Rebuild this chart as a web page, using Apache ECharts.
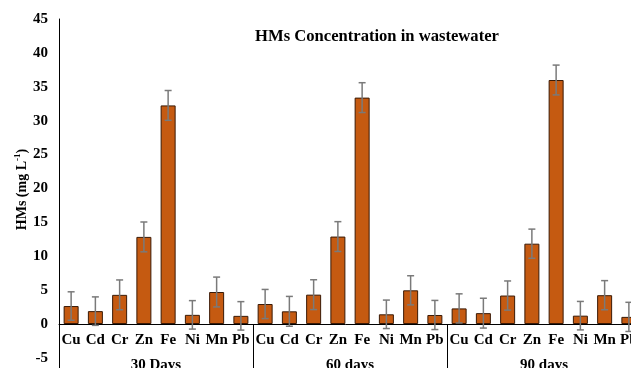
<!DOCTYPE html>
<html>
<head>
<meta charset="utf-8">
<script src="https://cdn.jsdelivr.net/npm/echarts@6/dist/echarts.min.js"></script>
<style>html,body{margin:0;padding:0;background:#fff}#c{width:631px;height:368px}</style>
</head>
<body>
<div id="c"></div>
<script>
var metals = ['Cu', 'Cd', 'Cr', 'Zn', 'Fe', 'Ni', 'Mn', 'Pb'];
var groups = ['30 Days', '60 days', '90 days'];
var days30 = [2.65, 1.9, 4.3, 12.85, 32.25, 1.35, 4.72, 1.2];
var days60 = [2.95, 1.87, 4.33, 12.9, 33.4, 1.43, 4.97, 1.33];
var days90 = [2.3, 1.6, 4.2, 11.85, 36.0, 1.23, 4.25, 1.05];
var err30 = [2.1, 2.1, 2.2, 2.2, 2.2, 2.1, 2.2, 2.1];
var err60 = [2.15, 2.2, 2.2, 2.2, 2.2, 2.1, 2.15, 2.15];
var err90 = [2.15, 2.2, 2.15, 2.15, 2.2, 2.1, 2.15, 2.15];
var yTicks = [-5, 0, 5, 10, 15, 20, 25, 30, 35, 40, 45];

var font = "'Liberation Serif', 'Times New Roman', serif";
var categories = [], values = [], errs = [];
[days30, days60, days90].forEach(function (arr, g) {
  var e = [err30, err60, err90][g];
  arr.forEach(function (v, i) {
    categories.push(metals[i]);
    values.push(v);
    errs.push(e[i]);
  });
});
var errData = values.map(function (v, i) { return [i, v - errs[i], v + errs[i]]; });
var lbl = { fontFamily: font, fontWeight: 'bold', fontSize: 15, color: '#000' };

var chart = echarts.init(document.getElementById('c'), null, { renderer: 'canvas' });
chart.setOption({
  animation: false,
  backgroundColor: '#fff',
  title: {
    text: 'HMs Concentration in wastewater',
    left: 372, top: 23, textAlign: 'center',
    textStyle: { fontFamily: font, fontWeight: 'bold', fontSize: 16.6, color: '#000' }
  },
  grid: [
    { left: 59, right: -10, top: 19, bottom: 44, outerBoundsMode: 'none', containLabel: false },
    { left: 59, right: -10, top: 324, bottom: -24, outerBoundsMode: 'none', containLabel: false }
  ],
  xAxis: [{
    type: 'category', data: categories, gridIndex: 0, position: 'bottom',
    axisLine: { onZero: false, lineStyle: { color: '#000', width: 1 } },
    axisTick: { show: false },
    axisLabel: Object.assign({ interval: 0, margin: 9 }, lbl)
  }, {
    type: 'category', data: groups, gridIndex: 0, position: 'bottom',
    axisLine: { show: false, onZero: false },
    axisTick: { show: true, length: 60, lineStyle: { color: '#000', width: 1 } },
    axisLabel: Object.assign({ interval: 0, margin: 34 }, lbl)
  }, {
    type: 'category', data: categories, gridIndex: 1, show: false
  }],
  yAxis: [{
    type: 'value', min: 0, max: 45, interval: 5, gridIndex: 0,
    axisLine: { show: true, onZero: false, lineStyle: { color: '#000', width: 1 } },
    axisTick: { show: false },
    splitLine: { show: false },
    axisLabel: Object.assign({
      margin: 11,
      formatter: function (v) { return yTicks.indexOf(v) >= 0 ? String(v) : ''; }
    }, lbl),
    name: '{a|HMs (mg L}{s|-1}{a|)}',
    nameLocation: 'middle', nameRotate: 90, nameGap: 30, nameMoveOverlap: false,
    nameTextStyle: {
      padding: [0, 36, 0, 0],
      rich: {
        a: { fontFamily: font, fontWeight: 'bold', fontSize: 14, color: '#000', lineHeight: 16, verticalAlign: 'bottom' },
        s: { fontFamily: font, fontWeight: 'bold', fontSize: 9, color: '#000', lineHeight: 16, verticalAlign: 'top' }
      }
    }
  }, {
    type: 'value', min: -10, max: 0, interval: 5, gridIndex: 1,
    axisLine: { show: true, onZero: false, lineStyle: { color: '#000', width: 1 } },
    axisTick: { show: false },
    splitLine: { show: false },
    axisLabel: Object.assign({
      margin: 11,
      formatter: function (v) { return (v < 0 && yTicks.indexOf(v) >= 0) ? String(v) : ''; }
    }, lbl)
  }],
  series: [{
    type: 'bar', data: values, xAxisIndex: 0, yAxisIndex: 0, barWidth: 15,
    itemStyle: { color: '#C55A11', borderColor: '#3a1a06', borderWidth: 1 }
  }, {
    type: 'custom', xAxisIndex: 0, yAxisIndex: 0, data: errData, clip: false,
    encode: { x: 0, y: [1, 2] }, z: 5,
    renderItem: function (params, api) {
      var x = api.value(0);
      var lo = api.coord([x, api.value(1)]);
      var hi = api.coord([x, api.value(2)]);
      var hw = 3.5;
      var st = { stroke: '#7a7a7a', lineWidth: 1.5, fill: null };
      return {
        type: 'group', children: [
          { type: 'line', shape: { x1: lo[0], y1: lo[1], x2: hi[0], y2: hi[1] }, style: st },
          { type: 'line', shape: { x1: lo[0] - hw, y1: lo[1], x2: lo[0] + hw, y2: lo[1] }, style: st },
          { type: 'line', shape: { x1: hi[0] - hw, y1: hi[1], x2: hi[0] + hw, y2: hi[1] }, style: st }
        ]
      };
    }
  }]
});
</script>
</body>
</html>
